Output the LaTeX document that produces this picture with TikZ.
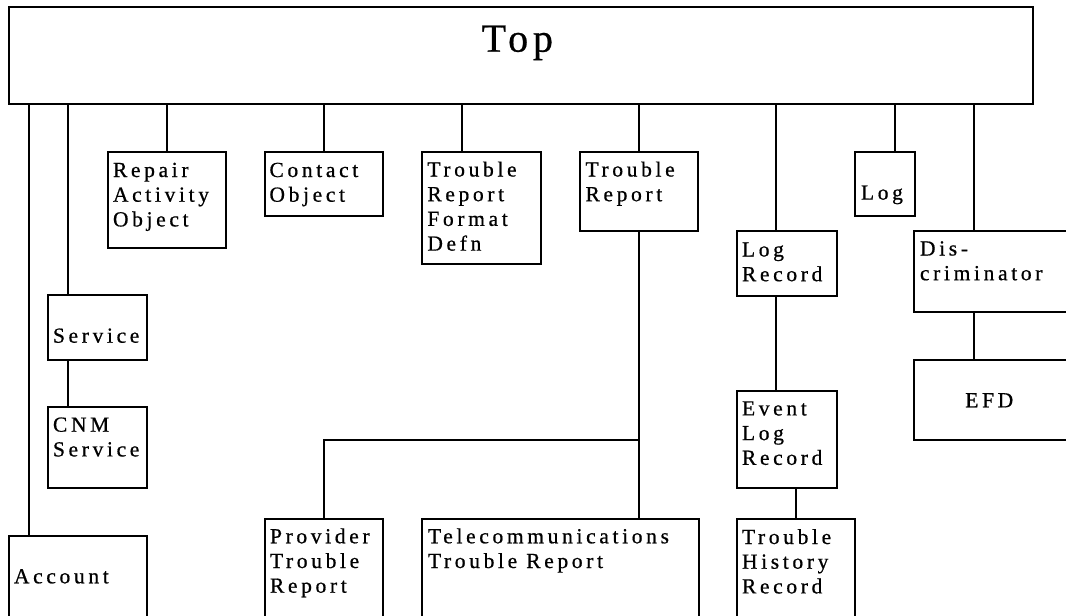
\documentclass[tikz,border=0pt]{standalone}
\usepackage{fontspec}
\setmainfont{Liberation Serif}
\newfontfamily\boxfont{Liberation Serif}[LetterSpace=17,FakeBold=0.7]
\newfontfamily\topfont{Liberation Serif}[LetterSpace=12,FakeBold=0.7]
\tikzset{
  box/.style={draw, line width=2pt, rectangle, inner sep=0pt, outer sep=0pt, anchor=north west},
  lbl/.style={inner sep=0pt, outer sep=0pt, anchor=base west, font=\boxfont\fontsize{21.5}{24.7}\selectfont},
  toplbl/.style={inner sep=0pt, outer sep=0pt, anchor=base west, font=\topfont\fontsize{40}{48}\selectfont},
  link/.style={line width=2pt},
}
\newcommand\bx[5]{\node[box, minimum width={#4-#2}, minimum height={#5-#3}] (#1) at (#2,#3) {};}
\begin{document}
\begin{tikzpicture}[x=1pt,y=-1pt]
\useasboundingbox (0,0) rectangle (1066,616);
\fill[white] (0,0) rectangle (1066,616);
\clip (0,0) rectangle (1066,616);
% boxes
\bx{top}{9}{7}{1033}{104}
\bx{repair}{108}{152}{226}{248}
\bx{contact}{265}{152}{383}{216}
\bx{trfd}{422}{152}{541}{264}
\bx{tr}{580}{152}{698}{231}
\bx{logrec}{737}{231}{837}{296}
\bx{log}{855}{152}{915}{216}
\bx{disc}{914}{231}{1070}{312}
\bx{service}{48}{295}{147}{360}
\bx{cnm}{48}{407}{147}{488}
\bx{account}{9}{536}{147}{630}
\bx{provider}{265}{519}{383}{630}
\bx{telecom}{422}{519}{699}{630}
\bx{evlog}{737}{391}{837}{488}
\bx{thr}{737}{519}{855}{630}
\bx{efd}{914}{360}{1070}{440}
% labels
\node[toplbl] (t-top) at ([shift={(472.7,44.7)}]top.north west) {Top};
\node[lbl] (t-repair) at ([shift={(5,25)}]repair.north west) {\vtop{\hbox{Repair}\hbox{Activity}\hbox{Object}}};
\node[lbl] (t-contact) at ([shift={(4.5,25)}]contact.north west) {\vtop{\hbox{Contact}\hbox{Object}}};
\node[lbl] (t-trfd) at ([shift={(5.4,24.5)}]trfd.north west) {\vtop{\hbox{Trouble}\hbox{Report}\hbox{Format}\hbox{Defn}}};
\node[lbl] (t-tr) at ([shift={(5.5,24.5)}]tr.north west) {\vtop{\hbox{Trouble}\hbox{Report}}};
\node[lbl] (t-logrec) at ([shift={(5,25.5)}]logrec.north west) {\vtop{\hbox{Log}\hbox{Record}}};
\node[lbl] (t-log) at ([shift={(6,47.6)}]log.north west) {Log};
\node[lbl] (t-disc) at ([shift={(6,24.5)}]disc.north west) {\vtop{\hbox{Dis-}\hbox{criminator}}};
\node[lbl] (t-service) at ([shift={(5,47.7)}]service.north west) {Service};
\node[lbl] (t-cnm) at ([shift={(5,24.7)}]cnm.north west) {\vtop{\hbox{CNM}\hbox{Service}}};
\node[lbl] (t-account) at ([shift={(5,47.3)}]account.north west) {Account};
\node[lbl] (t-provider) at ([shift={(5,24.3)}]provider.north west) {\vtop{\hbox{Provider}\hbox{Trouble}\hbox{Report}}};
\node[lbl] (t-telecom) at ([shift={(6,24.3)}]telecom.north west) {\vtop{\hbox{Telecommunications}\hbox{Trouble Report}}};
\node[lbl] (t-evlog) at ([shift={(5,24.4)}]evlog.north west) {\vtop{\hbox{Event}\hbox{Log}\hbox{Record}}};
\node[lbl] (t-thr) at ([shift={(5,25)}]thr.north west) {\vtop{\hbox{Trouble}\hbox{History}\hbox{Record}}};
\node[lbl] (t-efd) at ([shift={(51.3,47.3)}]efd.north west) {EFD};
% connectors
\coordinate (accx) at ([xshift=20pt]account.north west);
\draw[link] (accx) -- (accx |- top.south);
\coordinate (svx) at ([xshift=20pt]service.north west);
\draw[link] (svx) -- (svx |- top.south);
\coordinate (svb) at ([xshift=20pt]service.south west);
\draw[link] (svb) -- (svb |- cnm.north);
\draw[link] (repair.north) -- (repair.north |- top.south);
\draw[link] (contact.north) -- (contact.north |- top.south);
\coordinate (trfdx) at ([xshift=40pt]trfd.north west);
\draw[link] (trfdx) -- (trfdx |- top.south);
\draw[link] (tr.north) -- (tr.north |- top.south);
\draw[link] (tr.south) -- (tr.south |- telecom.north);
\path (tr.south) ++(0,209) coordinate (junc);
\draw[link] (junc) -| (provider.north);
\coordinate (lrx) at ([xshift=39pt]logrec.north west);
\draw[link] (lrx) -- (lrx |- top.south);
\coordinate (lrb) at ([xshift=39pt]logrec.south west);
\draw[link] (lrb) -- (lrb |- evlog.north);
\draw[link] (thr.north) -- (thr.north |- evlog.south);
\coordinate (logx) at ([xshift=40pt]log.north west);
\draw[link] (logx) -- (logx |- top.south);
\coordinate (dx) at ([xshift=60pt]disc.north west);
\draw[link] (dx) -- (dx |- top.south);
\coordinate (dbx) at ([xshift=60pt]disc.south west);
\draw[link] (dbx) -- (dbx |- efd.north);
\end{tikzpicture}
\end{document}
